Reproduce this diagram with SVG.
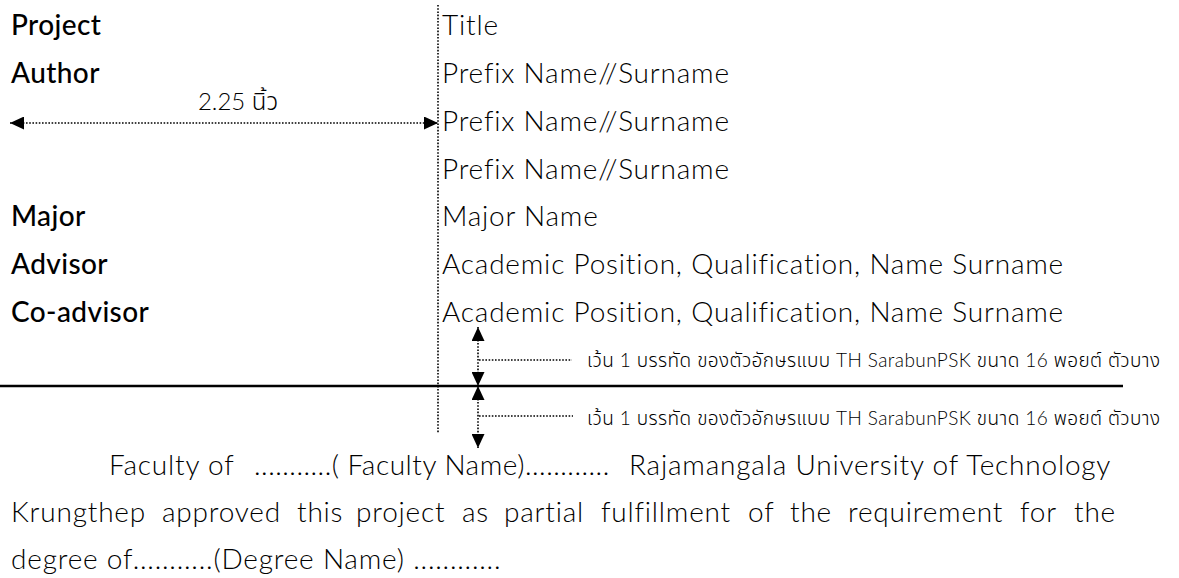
<svg xmlns="http://www.w3.org/2000/svg" width="1179" height="578" viewBox="0 0 1179 578">
<style>
  text { font-family: Lato, "Noto Sans", "Noto Sans Thai", Tahoma, sans-serif; fill: #000; }
  .lbl { font-size: 28px; font-weight: 500; letter-spacing: 0.4px; }
  .val { font-size: 28px; font-weight: 300; letter-spacing: 0.8px; }
  .body { font-size: 28px; font-weight: 300; letter-spacing: 0.8px; }
  .note { font-size: 19px; font-weight: 300; }
  .dim { font-size: 24px; font-weight: 300; }
  .dot { fill: none; stroke: #000; stroke-width: 1.6; stroke-dasharray: 1.6 1.6; }
  .rule { fill: none; stroke: #000; stroke-width: 2.5; }
</style>
<defs>
  <marker id="ah" viewBox="0 0 14 13" refX="14" refY="6.5" markerWidth="14" markerHeight="13" markerUnits="userSpaceOnUse" orient="auto-start-reverse">
    <path d="M0,0 L14,6.5 L0,13 Z" fill="#000"/>
  </marker>
</defs>

<g id="labels">
  <text class="lbl" x="11" y="35">Project</text>
  <text class="lbl" x="11" y="83">Author</text>
  <text class="lbl" x="11" y="226">Major</text>
  <text class="lbl" x="11" y="274">Advisor</text>
  <text class="lbl" x="11" y="322">Co-advisor</text>
</g>

<g id="values">
  <text class="val" x="442" y="35">Title</text>
  <text class="val" x="442" y="83">Prefix Name//Surname</text>
  <text class="val" x="442" y="131">Prefix Name//Surname</text>
  <text class="val" x="442" y="179">Prefix Name//Surname</text>
  <text class="val" x="442" y="226">Major Name</text>
  <text class="val" x="442" y="274">Academic Position, Qualification, Name Surname</text>
  <text class="val" x="442" y="322">Academic Position, Qualification, Name Surname</text>
</g>

<g id="dimension">
  <text class="dim" x="238" y="110" text-anchor="middle">2.25 นิ้ว</text>
</g>

<g id="notes">
  <text class="note" x="587" y="367" textLength="573">เว้น 1 บรรทัด ของตัวอักษรแบบ TH SarabunPSK ขนาด 16 พอยต์ ตัวบาง</text>
  <text class="note" x="587" y="425" textLength="573">เว้น 1 บรรทัด ของตัวอักษรแบบ TH SarabunPSK ขนาด 16 พอยต์ ตัวบาง</text>
</g>

<g id="paragraph">
  <text class="body" y="475"><tspan x="109">Faculty of</tspan><tspan x="254" textLength="356">...........( Faculty Name)............</tspan><tspan x="629">Rajamangala University of Technology</tspan></text>
  <text class="body" y="522"><tspan x="11">Krungthep</tspan><tspan x="162">approved</tspan><tspan x="297">this</tspan><tspan x="356">project</tspan><tspan x="462">as</tspan><tspan x="504">partial</tspan><tspan x="601">fulfillment</tspan><tspan x="748">of</tspan><tspan x="790">the</tspan><tspan x="848">requirement</tspan><tspan x="1020">for</tspan><tspan x="1074">the</tspan></text>
  <text class="body" x="11" y="569">degree of...........(Degree Name)  ............</text>
</g>

<g id="connectors">
  <line class="dot" x1="438" y1="5" x2="438" y2="433"/>
  <line class="rule" x1="0" y1="386" x2="1123" y2="386"/>
  <line class="dot" x1="10" y1="123" x2="438" y2="123" marker-start="url(#ah)" marker-end="url(#ah)"/>
  <line class="dot" x1="478" y1="327" x2="478" y2="386" marker-start="url(#ah)" marker-end="url(#ah)"/>
  <line class="dot" x1="478" y1="386" x2="478" y2="448" marker-start="url(#ah)" marker-end="url(#ah)"/>
  <line class="dot" x1="479" y1="360" x2="572" y2="360"/>
  <line class="dot" x1="479" y1="416" x2="573" y2="416"/>
</g>
</svg>
